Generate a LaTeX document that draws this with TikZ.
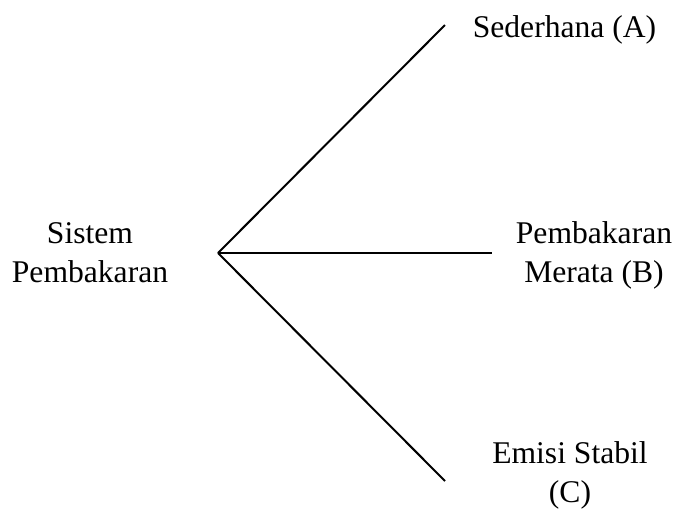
\documentclass[tikz,border=0pt]{standalone}
\usepackage{fontspec}
\setmainfont{Liberation Serif}
\begin{document}
\begin{tikzpicture}[x=0.5pt,y=-0.5pt,
  lbl/.style={anchor=base,align=center,inner sep=0pt,font=\fontsize{15.8}{19.5}\selectfont},
  branch/.style={line width=1pt,black}]
\useasboundingbox (0,0) rectangle (675,516);
\coordinate (hub) at (218,253);
\coordinate (endA) at (445,25);
\coordinate (endB) at (492,253);
\coordinate (endC) at (445,481);
\draw[branch] (hub) -- (endA);
\draw[branch] (hub) -- (endB);
\draw[branch] (hub) -- (endC);
\node[lbl] (root) at (90,282) {Sistem\\Pembakaran};
\node[lbl] (a) at (564.5,37) {Sederhana (A)};
\node[lbl] (b) at (594,282) {Pembakaran\\Merata (B)};
\node[lbl] (c) at (570,502) {Emisi Stabil\\(C)};
\end{tikzpicture}
\end{document}
